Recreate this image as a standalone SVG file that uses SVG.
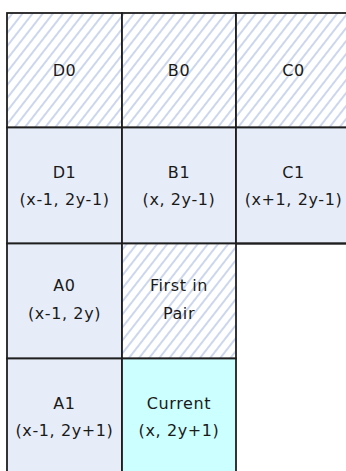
<svg xmlns="http://www.w3.org/2000/svg" width="346" height="471" viewBox="0 0 346 471">
<defs>
<pattern id="hatch" patternUnits="userSpaceOnUse" width="8" height="8" patternTransform="rotate(38)">
<rect width="8" height="8" fill="#ffffff"/>
<line x1="2" y1="0" x2="2" y2="8" stroke="#bfcdea" stroke-width="1.6"/>
</pattern>
</defs>
<style>
.cell{stroke:#1e1e1e;stroke-width:1.8}
.hatch{fill:url(#hatch)}
.blue{fill:#e7edf8}
.cyan{fill:#ccffff}
text{font-family:"DejaVu Sans","Liberation Sans",sans-serif;font-size:16px;fill:#1a1a1a;text-anchor:middle;letter-spacing:0.6px}
</style>
<rect width="346" height="471" fill="#ffffff"/>
<g id="D0"><rect class="cell hatch" x="7" y="13" width="115" height="114.5"/><text x="64.5" y="76">D0</text></g>
<g id="B0"><rect class="cell hatch" x="122" y="13" width="114" height="114.5"/><text x="179" y="76">B0</text></g>
<g id="C0"><rect class="cell hatch" x="236" y="13" width="115" height="114.5"/><text x="293.5" y="76">C0</text></g>
<g id="D1"><rect class="cell blue" x="7" y="127.5" width="115" height="116"/><text x="64.5" y="178">D1</text><text x="64.5" y="205">(x-1, 2y-1)</text></g>
<g id="B1"><rect class="cell blue" x="122" y="127.5" width="114" height="116"/><text x="179" y="178">B1</text><text x="179" y="205">(x, 2y-1)</text></g>
<g id="C1"><rect class="cell blue" x="236" y="127.5" width="115" height="116"/><text x="293.5" y="178">C1</text><text x="293.5" y="205">(x+1, 2y-1)</text></g>
<g id="A0"><rect class="cell blue" x="7" y="243.5" width="115" height="115"/><text x="64.5" y="291">A0</text><text x="64.5" y="319">(x-1, 2y)</text></g>
<g id="FirstInPair"><rect class="cell hatch" x="122" y="243.5" width="114" height="115"/><text x="179" y="291">First in</text><text x="179" y="319">Pair</text></g>
<g id="Empty"><line class="cell" x1="236" y1="243.5" x2="351" y2="243.5"/></g>
<g id="A1"><rect class="cell blue" x="7" y="358.5" width="115" height="120"/><text x="64.5" y="409">A1</text><text x="64.5" y="436">(x-1, 2y+1)</text></g>
<g id="Current"><rect class="cell cyan" x="122" y="358.5" width="114" height="120"/><text x="179" y="409">Current</text><text x="179" y="436">(x, 2y+1)</text></g>
<g id="connectors"></g>
</svg>
